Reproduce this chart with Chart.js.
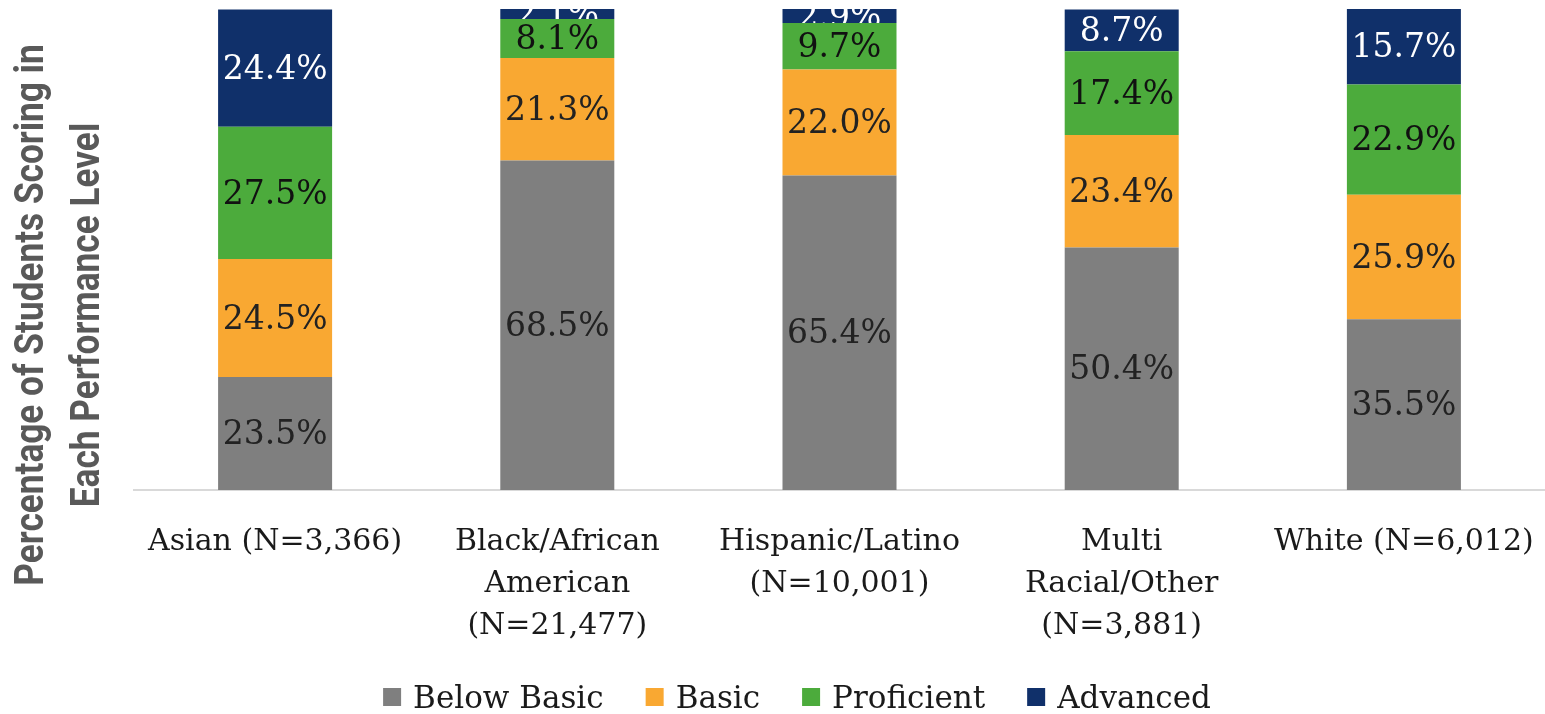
<!DOCTYPE html>
<html>
<head>
<meta charset="utf-8">
<script src="https://cdn.jsdelivr.net/npm/chart.js@4/dist/chart.umd.min.js"></script>
<style>
  html, body { margin: 0; padding: 0; background: #fff; }
  #wrap { width: 1545px; height: 714px; position: relative; }
</style>
</head>
<body>
<div id="wrap"><canvas id="chart"></canvas></div>
<script>
// groups on the x axis (multi line labels)
const groups = [
    ['Asian (N=3,366)'],
    ['Black/African', 'American', '(N=21,477)'],
    ['Hispanic/Latino', '(N=10,001)'],
    ['Multi', 'Racial/Other', '(N=3,881)'],
    ['White (N=6,012)']
]

// percent of students in each level
const below_basic = [23.5, 68.5, 65.4, 50.4, 35.5]
const basic = [24.5, 21.3, 22.0, 23.4, 25.9]
const proficient = [27.5, 8.1, 9.7, 17.4, 22.9]
const advanced = [24.4, 2.1, 2.9, 8.7, 15.7]

const y_title = ['Percentage of Students Scoring in', 'Each Performance Level']

// draw the value inside every segment, clipped to the bar
const bar_labels = {
    id: 'bar_labels',
    afterDatasetsDraw(chart) {
        let ctx = chart.ctx
        chart.data.datasets.forEach((ds, i) => {
            let meta = chart.getDatasetMeta(i)
            meta.data.forEach((bar, j) => {
                let p = bar.getProps(['x', 'y', 'base', 'width'], true)
                let top = Math.min(p.y, p.base)
                let h = Math.abs(p.base - p.y)
                ctx.save()
                ctx.beginPath()
                ctx.rect(p.x - p.width / 2, top, p.width, h)
                ctx.clip()
                ctx.font = '33px "DejaVu Serif"'
                ctx.textAlign = 'center'
                ctx.textBaseline = 'middle'
                ctx.fillStyle = ds.labelColor
                ctx.fillText(ds.data[j].toFixed(1) + '%', p.x, top + h / 2 + 2)
                ctx.restore()
            })
        })
    }
}

// rotated y axis title (two lines) and the legend under the chart
const side_text = {
    id: 'side_text',
    afterDraw(chart) {
        let ctx = chart.ctx
        ctx.save()
        ctx.font = 'bold 40px Roboto'
        ctx.fillStyle = '#595959'
        ctx.textAlign = 'center'
        ctx.textBaseline = 'alphabetic'
        ctx.translate(0, 315)
        ctx.rotate(-Math.PI / 2)
        ctx.scale(0.88, 1)
        ctx.fillText(y_title[0], 0, 43)
        ctx.fillText(y_title[1], 0, 99)
        ctx.restore()

        // legend
        ctx.save()
        ctx.font = '31px "DejaVu Serif"'
        ctx.textBaseline = 'alphabetic'
        ctx.textAlign = 'left'
        let box = 18, gap = 12, space = 42
        let items = chart.data.datasets.map(ds => ({
            text: ds.label, color: ds.backgroundColor, w: ctx.measureText(ds.label).width
        }))
        let total = items.reduce((s, it) => s + box + gap + it.w, 0) + space * (items.length - 1)
        let x = 797 - total / 2
        items.forEach(it => {
            ctx.fillStyle = it.color
            ctx.fillRect(x, 688, box, box)
            ctx.fillStyle = '#1a1a1a'
            ctx.fillText(it.text, x + box + gap, 708)
            x += box + gap + it.w + space
        })
        ctx.restore()
    }
}

let chart_el = document.querySelector('#chart')
new Chart(chart_el, {
    type: 'bar',
    data: {
        labels: groups,
        datasets: [
            { label: 'Below Basic', data: below_basic, backgroundColor: '#7f7f7f', labelColor: '#222' },
            { label: 'Basic', data: basic, backgroundColor: '#f9a832', labelColor: '#222' },
            { label: 'Proficient', data: proficient, backgroundColor: '#4cab3c', labelColor: '#111' },
            { label: 'Advanced', data: advanced, backgroundColor: '#10306a', labelColor: '#fff' },
        ]
    },
    options: {
        responsive: true,
        maintainAspectRatio: false,
        animation: false,
        layout: { padding: { left: 134, right: 0, top: 9, bottom: 50 } },
        datasets: { bar: { barPercentage: 0.404, categoryPercentage: 1.0 } },
        scales: {
            x: {
                stacked: true,
                grid: { display: false },
                border: { display: true, color: '#d9d9d9', width: 2 },
                ticks: {
                    color: '#1a1a1a',
                    font: { family: 'DejaVu Serif', size: 30, lineHeight: 1.4 },
                    padding: 23,
                    maxRotation: 0,
                    autoSkip: false
                },
                afterFit(scale) {
                    scale.height = 174
                    scale.paddingLeft = 0
                    scale.paddingRight = 0
                }
            },
            y: {
                stacked: true,
                display: false,
                min: 0,
                max: 100
            }
        },
        plugins: {
            legend: { display: false },
            tooltip: { enabled: false }
        }
    },
    plugins: [bar_labels, side_text]
})
</script>
</body>
</html>
